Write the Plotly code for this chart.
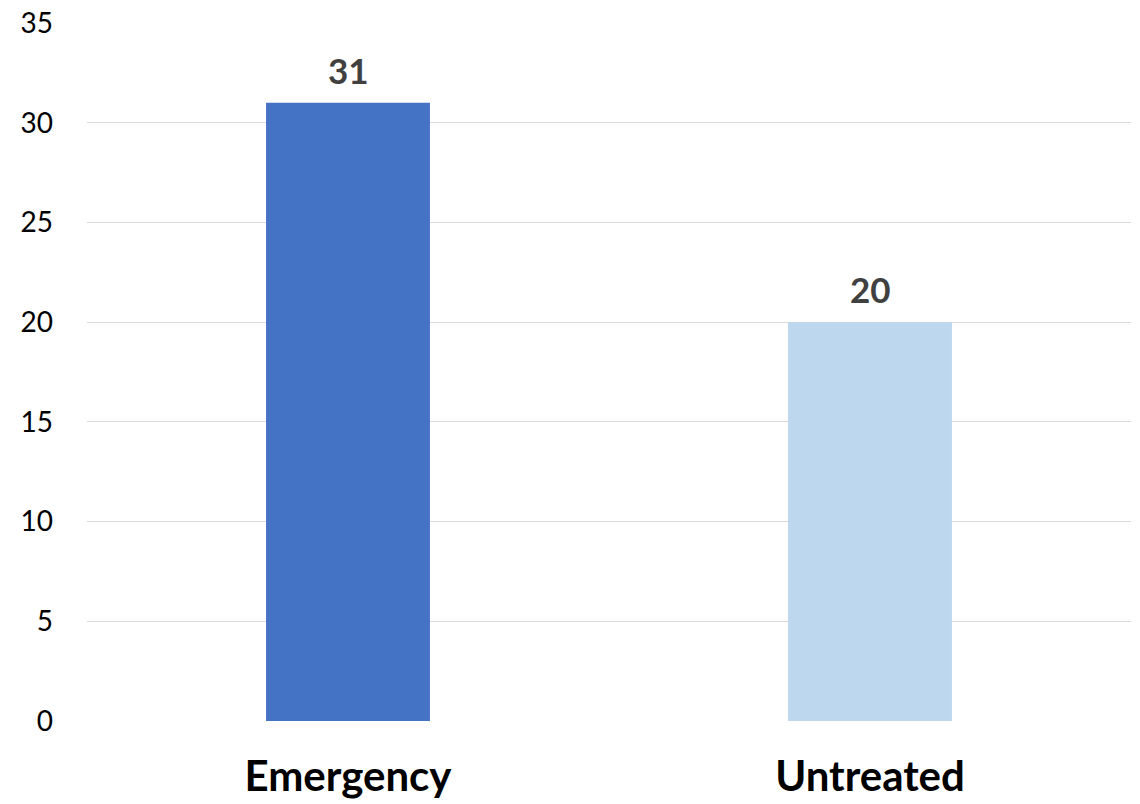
import plotly.graph_objects as go

categories = ["Emergency", "Untreated"]
counts = [31, 20]
bar_colors = ["#4472C4", "#BDD7EE"]
y_ticks = [0, 5, 10, 15, 20, 25, 30, 35]

font_family = "Lato, 'Open Sans', sans-serif"

fig = go.Figure(
    go.Bar(
        x=categories,
        y=counts,
        marker=dict(color=bar_colors, line=dict(width=0)),
        width=0.314,
        hoverinfo="skip",
    )
)

# value labels sitting above each bar
for cat, val in zip(categories, counts):
    fig.add_annotation(
        x=cat,
        y=val,
        text=f"<b>{val}</b>",
        showarrow=False,
        yanchor="bottom",
        yshift=10,
        font=dict(family=font_family, size=35, color="#404040"),
    )

fig.update_layout(
    width=1140,
    height=804,
    margin=dict(l=87, r=9, t=23, b=83),
    paper_bgcolor="white",
    plot_bgcolor="white",
    showlegend=False,
    font=dict(family=font_family),
)

fig.update_xaxes(
    automargin=False,
    showgrid=False,
    showline=False,
    zeroline=False,
    ticks="",
    tickfont=dict(family=font_family, size=42, color="#000000", weight="bold"),
    ticklabelstandoff=27,
)

fig.update_yaxes(
    automargin=False,
    range=[0, 35],
    tickvals=y_ticks,
    showgrid=True,
    gridcolor="#D9D9D9",
    gridwidth=1,
    zeroline=False,
    showline=False,
    ticks="",
    tickfont=dict(family=font_family, size=28, color="#000000"),
    ticklabelstandoff=33,
)

fig.write_html("out.html")
